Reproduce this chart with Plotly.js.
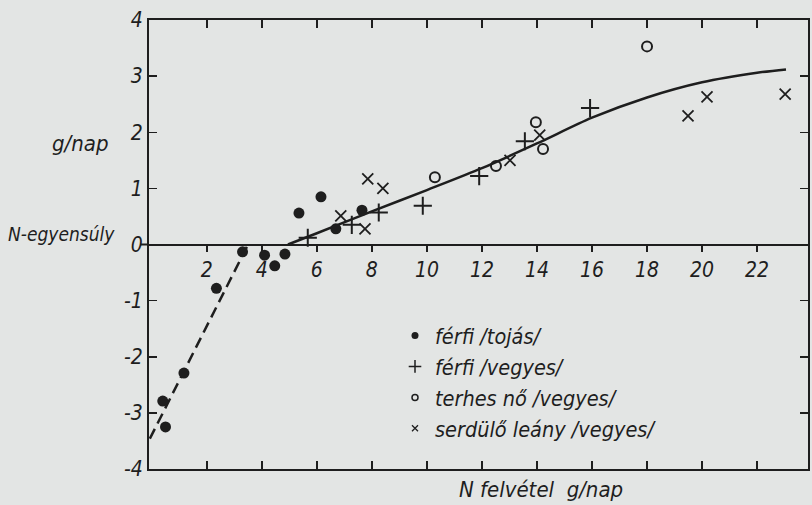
<!DOCTYPE html>
<html><head><meta charset="utf-8">
<script src="https://cdn.plot.ly/plotly-3.0.1.min.js"></script>
<style>html,body{margin:0;padding:0;background:#e3e5e4;}</style>
</head><body><div id="chart" style="width:812px;height:505px;"></div>
<script>
// férfi /tojás/ (filled dots)
const tojasX = [0.4, 0.5, 1.17, 2.35, 3.3, 4.1, 4.47, 4.84, 5.35, 6.15, 6.69, 7.64];
const tojasY = [-2.79, -3.25, -2.29, -0.78, -0.13, -0.19, -0.38, -0.17, 0.56, 0.85, 0.28, 0.61];
// férfi /vegyes/ (plus)
const ferfiVegyesX = [5.67, 7.27, 8.25, 9.85, 11.9, 13.56, 15.93];
const ferfiVegyesY = [0.12, 0.35, 0.57, 0.69, 1.22, 1.84, 2.43];
// terhes nő /vegyes/ (open circle)
const terhesX = [10.29, 12.51, 13.96, 14.22, 18.0];
const terhesY = [1.20, 1.40, 2.18, 1.70, 3.53];
// serdülő leány /vegyes/ (x)
const serduloX = [6.87, 7.75, 7.85, 8.4, 13.02, 14.1, 19.49, 20.18, 23.02];
const serduloY = [0.51, 0.28, 1.17, 1.0, 1.5, 1.95, 2.29, 2.63, 2.68];
// fitted curves
const curveX = [4.95, 6, 8, 10, 12, 14, 16, 18, 20, 22, 23.05];
const curveY = [0, 0.2, 0.59, 0.97, 1.36, 1.8, 2.26, 2.62, 2.89, 3.06, 3.12];
const dashX = [-0.07, 3.5];
const dashY = [-3.46, 0];
// ticks
const xTickVals = [2, 4, 6, 8, 10, 12, 14, 16, 18, 20, 22];
const xTickText = ['2', '4', '6', '8', '10', '12', '14', '16', '18', '20', '22'];
const yTickVals = [-4, -3, -2, -1, 0, 1, 2, 3, 4];
const yTickText = ['-4', '-3', '-2', '-1', '0', '1', '2', '3', '4'];
const legendNames = ['férfi /tojás/', 'férfi /vegyes/', 'terhes nő /vegyes/', 'serdülő leány /vegyes/'];

const INK = '#1e1e1e';
const FONT = 'DejaVu Sans Condensed, DejaVu Sans, sans-serif';

const traces = [
  {x: dashX, y: dashY, mode: 'lines', line: {color: INK, width: 2.5, dash: '11px,6px'}, showlegend: false, hoverinfo: 'skip'},
  {x: curveX, y: curveY, mode: 'lines', line: {color: INK, width: 2.5, shape: 'spline', smoothing: 0.8}, showlegend: false, hoverinfo: 'skip'},
  {x: tojasX, y: tojasY, mode: 'markers', marker: {symbol: 'circle', size: 11, color: INK}, showlegend: false},
  {x: ferfiVegyesX, y: ferfiVegyesY, mode: 'markers', marker: {symbol: 'cross-thin-open', size: 13, color: INK, line: {color: INK, width: 2}}, showlegend: false},
  {x: terhesX, y: terhesY, mode: 'markers', marker: {symbol: 'circle-open', size: 10, color: INK, line: {color: INK, width: 2}}, showlegend: false},
  {x: serduloX, y: serduloY, mode: 'markers', marker: {symbol: 'x-thin-open', size: 11, color: INK, line: {color: INK, width: 1.8}}, showlegend: false},
  // legend entries
  {x: [null], y: [null], mode: 'markers', name: legendNames[0], marker: {symbol: 'circle', size: 7, color: INK}},
  {x: [null], y: [null], mode: 'markers', name: legendNames[1], marker: {symbol: 'cross-thin-open', size: 9, color: INK, line: {color: INK, width: 1.5}}},
  {x: [null], y: [null], mode: 'markers', name: legendNames[2], marker: {symbol: 'circle-open', size: 6, color: INK, line: {color: INK, width: 1.5}}},
  {x: [null], y: [null], mode: 'markers', name: legendNames[3], marker: {symbol: 'x-thin-open', size: 6, color: INK, line: {color: INK, width: 1.3}}}
];

const W = 659, H = 449, L = 149, T = 20;
function px(xp) { return (xp - L) / W; }
function py(yp) { return 1 - (yp - T) / H; }

const layout = {
  width: 812, height: 505,
  margin: {l: L, r: 4, t: T, b: 36, pad: 0},
  paper_bgcolor: '#e3e5e4', plot_bgcolor: '#e3e5e4',
  font: {family: FONT, color: INK, size: 20, style: 'italic'},
  showlegend: true,
  legend: {x: px(395), y: py(315), xanchor: 'left', yanchor: 'top', bgcolor: 'rgba(0,0,0,0)',
           font: {family: FONT, size: 21.5, style: 'italic', color: INK}, itemwidth: 30, tracegroupgap: 0},
  xaxis: {range: [-0.1, 23.85], showgrid: false, zeroline: false, showline: true, linecolor: INK, linewidth: 2,
          mirror: 'ticks', ticks: 'inside', ticklen: 8, tickwidth: 1.5, tickcolor: INK,
          tickvals: xTickVals, showticklabels: false},
  xaxis2: {overlaying: 'x', anchor: 'free', position: 0.5, side: 'bottom', matches: 'x', range: [-0.1, 23.85],
           showgrid: false, zeroline: false, showline: true, linecolor: INK, linewidth: 2,
           ticks: 'outside', ticklen: 6, tickwidth: 1.5, tickcolor: INK,
           tickvals: xTickVals, ticktext: xTickText, tickfont: {size: 21, style: 'italic'}},
  yaxis: {range: [-4, 4], showgrid: false, zeroline: false, showline: true, linecolor: INK, linewidth: 2,
          mirror: 'ticks', ticks: 'inside', ticklen: 8, tickwidth: 1.5, tickcolor: INK,
          tickvals: yTickVals, ticktext: yTickText, tickfont: {size: 21, style: 'italic'}},
  annotations: [
    {xref: 'paper', yref: 'paper', x: px(80), y: py(143), text: 'g/nap', showarrow: false,
     xanchor: 'center', yanchor: 'middle', font: {size: 22, style: 'italic'}},
    {xref: 'paper', yref: 'paper', x: px(6), y: py(234), text: 'N-egyensúly', showarrow: false,
     xanchor: 'left', yanchor: 'middle', font: {size: 19, style: 'italic'}},
    {xref: 'paper', yref: 'paper', x: px(541), y: py(489), text: 'N felvétel  g/nap', showarrow: false,
     xanchor: 'center', yanchor: 'middle', font: {size: 22, style: 'italic'}}
  ],
  shapes: [
    {type: 'line', xref: 'paper', yref: 'y', x0: px(140), x1: 0, y0: 0, y1: 0, line: {color: INK, width: 2}}
  ]
};

// attach a dummy trace to xaxis2 so it renders
traces.push({x: [null], y: [null], xaxis: 'x2', yaxis: 'y', mode: 'markers', showlegend: false, hoverinfo: 'skip'});

Plotly.newPlot('chart', traces, layout, {displayModeBar: false, staticPlot: true});
</script>
</body></html>
